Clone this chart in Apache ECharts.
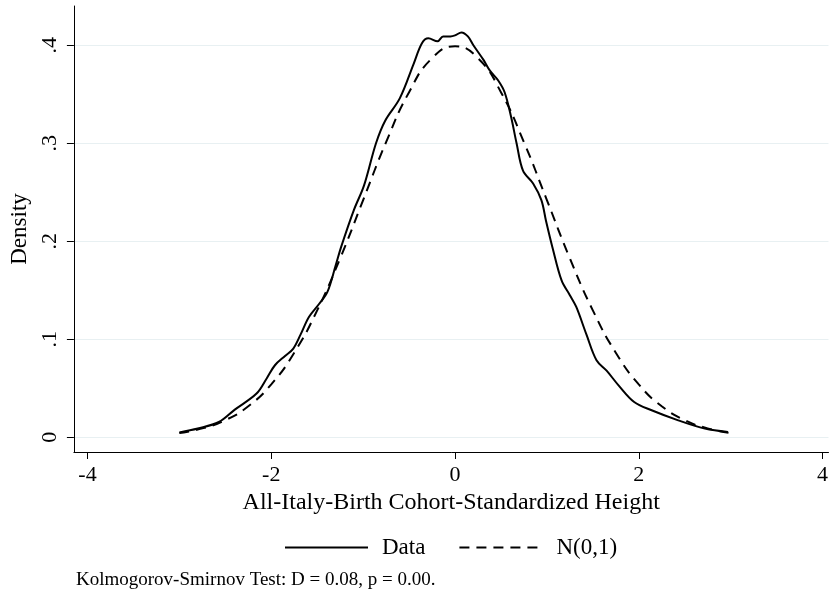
<!DOCTYPE html>
<html>
<head>
<meta charset="utf-8">
<script src="https://cdn.jsdelivr.net/npm/echarts@6/dist/echarts.min.js"></script>
<style>html,body{margin:0;padding:0;background:#fff}#c{width:831px;height:598px}</style>
</head>
<body>
<div id="c"></div>
<script>
// Kernel density of standardized height (x, density)
const dataX = [-3.00,-2.80,-2.57,-2.40,-2.16,-2.05,-1.96,-1.85,-1.76,-1.68,-1.59,-1.48,-1.39,-1.30,-1.24,-1.10,-0.99,-0.86,-0.76,-0.60,-0.45,-0.36,-0.29,-0.19,-0.13,-0.05,0.00,0.07,0.14,0.20,0.31,0.38,0.47,0.54,0.61,0.67,0.74,0.85,0.94,0.99,1.06,1.16,1.25,1.32,1.43,1.54,1.65,1.78,1.95,2.14,2.43,2.72,2.97];
const dataY = [0.005,0.009,0.0156,0.028,0.0446,0.060,0.0735,0.083,0.0905,0.105,0.1228,0.136,0.148,0.175,0.194,0.232,0.257,0.300,0.323,0.346,0.381,0.402,0.407,0.404,0.409,0.409,0.410,0.413,0.409,0.400,0.385,0.374,0.364,0.352,0.327,0.300,0.272,0.259,0.242,0.221,0.194,0.160,0.145,0.133,0.105,0.0786,0.068,0.053,0.036,0.0276,0.0173,0.0089,0.0054];
// N(0,1) reference curve
const normX = [-3.00,-2.75,-2.50,-2.25,-2.00,-1.75,-1.50,-1.25,-1.00,-0.75,-0.50,-0.25,0.00,0.25,0.50,0.75,1.00,1.25,1.50,1.75,2.00,2.25,2.50,2.75,3.00];
const normY = [0.0044,0.0091,0.0175,0.0317,0.0540,0.0863,0.1295,0.1826,0.2420,0.3011,0.3521,0.3867,0.3989,0.3867,0.3521,0.3011,0.2420,0.1826,0.1295,0.0863,0.0540,0.0317,0.0175,0.0091,0.0044];
const xTicks = [-4,-2,0,2,4];
const yTicks = [0,0.1,0.2,0.3,0.4];
const yTickLabels = ['0','.1','.2','.3','.4'];
const seriesNames = ['Data','N(0,1)'];
const xTitle = 'All-Italy-Birth Cohort-Standardized Height';
const yTitle = 'Density';
const note = 'Kolmogorov-Smirnov Test: D = 0.08, p = 0.00.';

const FF = '"Liberation Serif", "DejaVu Serif", serif';
const chart = echarts.init(document.getElementById('c'), null, {renderer:'canvas'});
chart.setOption({
  animation:false,
  backgroundColor:'#fff',
  grid:{left:71, right:0, top:6, bottom:146, containLabel:false},
  xAxis:{
    type:'value', min:-4.148, max:4.065,
    axisLine:{onZero:false, lineStyle:{color:'#000', width:1}},
    axisTick:{customValues:xTicks, length:7, lineStyle:{color:'#000', width:1}},
    axisLabel:{customValues:xTicks, margin:12, color:'#000', fontFamily:FF, fontSize:22},
    splitLine:{show:false},
    name:xTitle, nameLocation:'middle', nameGap:29,
    nameTextStyle:{color:'#000', fontFamily:FF, fontSize:24}
  },
  yAxis:{
    type:'value', min:-0.015, max:0.44,
    axisLine:{show:true, onZero:false, lineStyle:{color:'#000', width:1}},
    axisTick:{show:true, customValues:yTicks, length:7, lineStyle:{color:'#000', width:1}},
    axisLabel:{customValues:yTicks, rotate:90, margin:13, color:'#000', fontFamily:FF, fontSize:22,
      formatter:function(v){const i=yTicks.findIndex(t=>Math.abs(t-v)<1e-9);return i>=0?yTickLabels[i]:'';}},
    splitLine:{show:true, lineStyle:{color:'#e8f0f2', width:1.2}},
    name:yTitle, nameLocation:'middle', nameGap:41, nameRotate:90,
    nameTextStyle:{color:'#000', fontFamily:FF, fontSize:23}
  },
  legend:{
    top:531, left:279, itemWidth:83, itemHeight:14, itemGap:33,
    itemStyle:{opacity:0},
    textStyle:{color:'#000', fontFamily:FF, fontSize:23, padding:[0,0,0,9]},
    data:seriesNames
  },
  graphic:[{type:'text', left:76, top:571, style:{text:note, font:'19px "Liberation Serif", serif', fill:'#000'}}],
  series:[
    {name:seriesNames[0], type:'line', data:dataX.map((x,i)=>[x,dataY[i]]), smooth:0.35, showSymbol:false, symbol:'none',
     lineStyle:{color:'#000', width:2}, itemStyle:{color:'#000'}},
    {name:seriesNames[1], type:'line', data:normX.map((x,i)=>[x,normY[i]]), smooth:true, showSymbol:false, symbol:'none',
     lineStyle:{color:'#000', width:2, type:[10,7]}, itemStyle:{color:'#000'}}
  ]
});
</script>
</body>
</html>
